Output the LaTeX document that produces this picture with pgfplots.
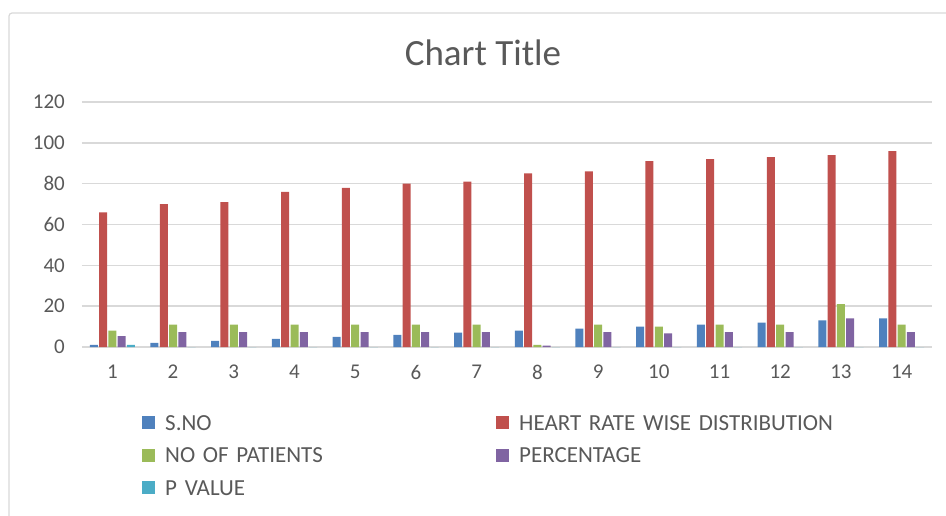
\documentclass[border=0pt]{standalone}
\usepackage{fontspec}
\setmainfont{Carlito}
\usepackage{pgfplots}
\pgfplotsset{compat=1.18}
\usepackage{pgfplotstable}
\definecolor{txt}{HTML}{595959}
\definecolor{grd}{HTML}{D9D9D9}
\definecolor{sblue}{HTML}{4F81BD}
\definecolor{sred}{HTML}{C0504D}
\definecolor{sgreen}{HTML}{9BBB59}
\definecolor{spurple}{HTML}{8064A2}
\definecolor{scyan}{HTML}{4BACC6}
\newcommand\tickfont{\fontsize{21}{25}\selectfont}
\newcommand\legfont{\fontsize{23}{25}\selectfont}

\pgfplotstableread{
x sno hr pat pct pv
1 1 66 8 5.33 1
2 2 70 11 7.33 0
3 3 71 11 7.33 0
4 4 76 11 7.33 0
5 5 78 11 7.33 0
6 6 80 11 7.33 0
7 7 81 11 7.33 0
8 8 85 1 0.67 0
9 9 86 11 7.33 0
10 10 91 10 6.67 0
11 11 92 11 7.33 0
12 12 93 11 7.33 0
13 13 94 21 14 0
14 14 96 11 7.33 0
}\hrdata

\begin{document}
\begin{tikzpicture}
\useasboundingbox (-82pt,-168pt) rectangle (864pt,347pt);
\draw[grd,line width=1.2pt,rounded corners=3pt] (-73pt,-170pt) -- (-73pt,334pt) -- (866pt,334pt);
\node[anchor=base,font=\fontsize{37}{44}\selectfont,text=txt] at (401pt,282pt) {Chart Title};
\begin{axis}[
 at={(0pt,0pt)},anchor=south west,
 scale only axis,width=850pt,height=245pt,
 xmin=0.5,xmax=14.5,ymin=0,ymax=120,
 xtick={1,...,14},ytick={0,20,...,120},
 major tick length=0pt,
 axis line style={draw=none},
 ymajorgrids,grid style={grd,line width=1.5pt},
 /pgf/number format/assume math mode=true,
 tick label style={font=\tickfont,text=txt},
 yticklabel style={anchor=east,inner sep=0pt,xshift=-17pt},
 xticklabel style={anchor=north,inner sep=0pt,yshift=-18pt},
 ybar=1.3pt,bar width=8pt,
 legend columns=2,legend cell align=left,
 legend image code/.code={\fill[#1,draw=none] (0pt,-4.5pt) rectangle (13pt,8.5pt);},
 legend style={draw=none,fill=none,inner sep=0pt,
   at={(0.0706,-0.2776)},anchor=north west,
   font=\legfont,text=txt,column sep=10pt,row sep=13.5pt,
   nodes={inner sep=0pt,text width=321pt,text height=15pt,text depth=4pt}},
]
\addplot[fill=sblue,draw=none] table[x=x,y=sno]{\hrdata};
\addplot[fill=sred,draw=none] table[x=x,y=hr]{\hrdata};
\addplot[fill=sgreen,draw=none] table[x=x,y=pat]{\hrdata};
\addplot[fill=spurple,draw=none] table[x=x,y=pct]{\hrdata};
\addplot[fill=scyan,draw=none] table[x=x,y=pv]{\hrdata};
\legend{S.NO,HEART RATE WISE DISTRIBUTION,NO OF PATIENTS,PERCENTAGE,P VALUE}
\end{axis}
\end{tikzpicture}
\end{document}
